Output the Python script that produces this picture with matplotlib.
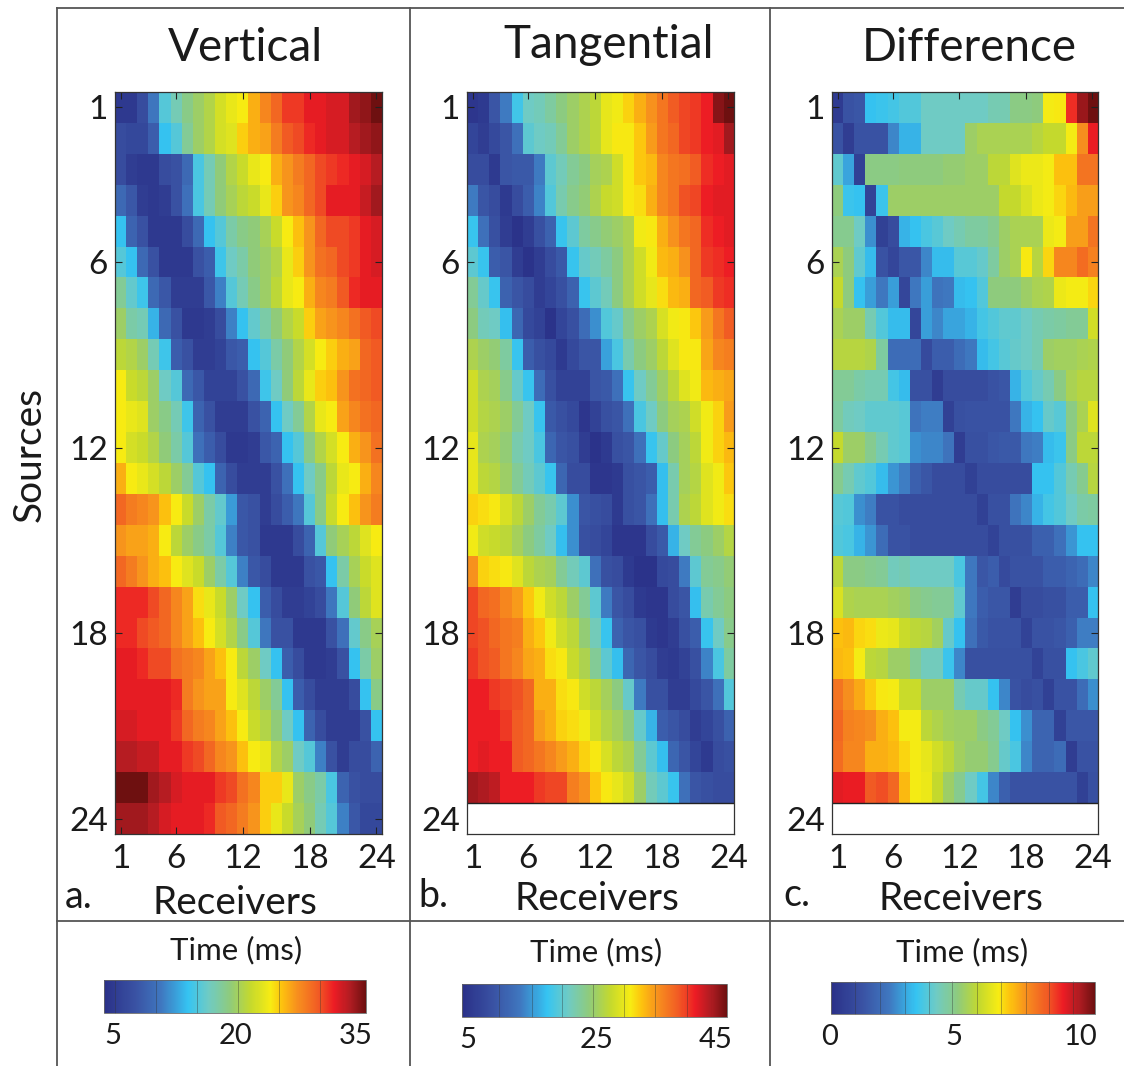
import matplotlib
matplotlib.use('Agg')
import matplotlib.pyplot as plt
import numpy as np
from matplotlib.colors import LinearSegmentedColormap, Normalize
from matplotlib.cm import ScalarMappable
from matplotlib.lines import Line2D

W, H = 1124, 1066

plt.rcParams['font.family'] = ['Lato', 'DejaVu Sans']

blank_row = [np.nan] * 24

vertical_times = [
    [6,6,8,11.5,16,17.5,19,20,21,22.5,23.5,24,26,27.5,29,30.5,30.5,31.5,31.5,32,32,33.5,34,35],
    [8,7.5,7.5,9.5,14.5,16,18.5,20,21,22.5,23,25,26,26.5,28,29.5,30,31,31.5,32,32,33,33.5,34],
    [8,6.5,6,6,8,8.5,10.5,15.5,17.5,19.5,21,22,23.5,24,26,27,28,29,30,30.5,31,31.5,32,33],
    [10.5,9,6.5,6,6.5,8.5,11,15.5,17.5,19.5,20.5,21.5,22,23.5,25,27,27.5,29,30,31.5,31.5,31.5,32.5,33.5],
    [14.5,10,8.5,6,6,6,8,10.5,14.5,16,18,19,19.5,20.5,22,24,25.5,27,29,30,30,30.5,31.5,32],
    [16,14.5,10.5,8.5,6,6,6,8.5,9.5,15,17,18,19.5,20,21,23.5,25,27,28.5,29,30,30.5,31.5,32],
    [18.5,16.5,15,10.5,9,6.5,6.5,6.5,9,12,16,17.5,19,20,21.5,23.5,24,26,27.5,28,29.5,31,31.5,31.5],
    [20,18,17.5,14,10.5,8.5,6,6,6.5,8,12,14.5,16.5,18,19.5,21,22,25,26.5,27,27.5,28.5,29.5,30],
    [21.5,21,20,17.5,15,9.5,8.5,6.5,6.5,7,9,9.5,14.5,16,18,19.5,21,22.5,24,25,26,26.5,29,29.5],
    [24,22,21.5,20,17,16,10.5,9,7,7,7,8.5,10.5,15,17,19.5,21.5,23.5,25,25.5,27,28.5,29,29.5],
    [24,23.5,23,20,19,17.5,15,10,8.5,6.5,6.5,6.5,8.5,10,14.5,17,18.5,21,23.5,24,26.5,27.5,28.5,29],
    [24,22.5,22,21,19.5,18,16,11,9.5,8,6,6,6.5,9,10,14.5,16,19,21,22.5,24,26,27,28.5],
    [26,24,23.5,22.5,21.5,20,18.5,16,14.5,10,8,6.5,6.5,6.5,8.5,11,14.5,17,19,21.5,23.5,24,26,27.5],
    [29,28,27.5,27,25.5,24,22,20,18,16.5,13,9,8.5,6.5,8,9.5,11.5,16,19,22,24,25.5,27,28],
    [27,26.5,26.5,26,24,21.5,20,19,18,16,12,9,8.5,6,6,6,8,10,16,19.5,20.5,21.5,23,24],
    [29,28,27,26,25.5,24,23,22,20,18,16,12,9,8,6,6,6,8.5,9,14.5,18,20.5,22,23],
    [31,31,31,30,29,27.5,26.5,24.5,23.5,22,20,17,14.5,9.5,8,6.5,6.5,7,8,11.5,16,19.5,21.5,23],
    [31,31,30,29.5,29,27.5,26.5,25.5,24,22.5,21,19,16,11.5,8.5,8.5,6,6,6,8.5,11,16.5,19,20.5],
    [31.5,31.5,31,30,30,28.5,28,27.5,26.5,25.5,24,21.5,20,17,14.5,9.5,8,6,6,6.5,8.5,14.5,18,20],
    [31.5,31.5,31.5,31.5,31.5,31,28,27,26.5,26.5,24,23,21.5,20,18.5,14.5,9.5,8,6.5,6.5,6.5,8,14.5,19],
    [32,32,31.5,31.5,31.5,30.5,29,28,27.5,26.5,25.5,24,22,21,19.5,17,14.5,10,8,6.5,6.5,6.5,8.5,14.5],
    [33,33,32.5,32.5,31.5,31.5,30.5,30,29,27.5,27,25.5,24,23.5,21,20,17,16,12,8.5,6.5,8,8,10],
    [35,35,35,33.5,33,32,31.5,31.5,31.5,30.5,30,28.5,27.5,25,25,23.5,20,19,18,15.5,10,8.5,8,8],
    [33.5,33.5,33.5,33,32,31.5,31.5,31.5,31,29.5,29,28,27,25,23.5,22,20.5,19.5,17.5,16,12,9,7.5,7.5],
]

tangential_times = [
    [6,6.5,10,14,18.5,21,21.5,22.5,24,25,26,27,29.5,30,31.5,33,34.5,36,37.5,38.5,39,40,44,45],
    [8,7,8.5,10,13,20,21,21.5,23,25,26,27,29.5,30.5,30.5,32,34,36,37,38.5,39,40,40.5,43],
    [9,9,6.5,10,10.5,10.5,14,20,21.5,23,24,25.5,26,28,30.5,32,32.5,35,36,36.5,37.5,39.5,40,40.5],
    [14,10,9,6.5,9,11,14.5,19.5,22,23.5,24.5,26,27.5,28,30.5,31,33,35,36,38,38.5,40,40.5,40.5],
    [18,13,9.5,7,5.5,7,9.5,11.5,18,20,22.5,23.5,24.5,25,26,30,30.5,33,34.5,36,37,39.5,40,40.5],
    [20,18,11,10,7,5.5,7,9,10.5,18,20.5,21.5,22.5,24,26,28,30,32.5,33,34.5,37,39,39.5,40],
    [23,20.5,18,11.5,10,9,7,8,9.5,11.5,18,20,21.5,24,26,28,29.5,31,32.5,33,37,37.5,39,39.5],
    [24,21.5,21,17.5,12,8.5,7.5,5.5,8,9.5,12.5,15,19.5,20.5,23.5,25,26,28.5,30,30.5,32,34,36,37.5],
    [26,25,24.5,22.5,18,11,9.5,8.5,6.5,8.5,10,10,16,19,22,24,25,27,29,30.5,30.5,33.5,35,35.5],
    [28,26,25.5,23.5,20.5,18,12.5,9.5,7.5,7.5,7.5,10,10.5,13,18,21,23,25,27,29,30,32.5,33,33.5],
    [28,26.5,26,25,23,21,18,10.5,9.5,8.5,6,7.5,9.5,10,13,19,21,24,25.5,26,28,30,31.5,34],
    [29.5,26,25.5,24.5,22,21,19,12,10,9.5,7,5.5,6.5,9.5,10,13,18,20.5,24,25.5,27,30,31.5,32.5],
    [29.5,27,26.5,25,23,21.5,20,18,12,9,9,6,6,6.5,9.5,10,11,17.5,22,25.5,26.5,29,30,32],
    [31.5,31,30.5,28.5,27,25,23,22,20,15,10,9.5,9,6.5,9.5,10,13,17.5,22,26,27,29,30,31],
    [30,28,27.5,27,25.5,24,22.5,21,17.5,15,9.5,9,8,6,6,6,9,10.5,17,21,23,24,25,26.5],
    [34.5,31.5,31,30.5,29,27,26,25.5,23,21.5,20,13,9.5,9,6.5,5.5,5.5,8.5,9,14,20,23,23.5,24.5],
    [38.5,37,36.5,35,34,32,30,28,27,25,23,20,14,10,9,6.5,6,6,9,10,17.5,22,23,24],
    [38.5,38,37,36,35.5,33,32,30,28,27,24.5,21.5,18,11.5,10,9.5,6.5,6,7,9.5,11,18,21,23.5],
    [39,38,37.5,36,35,33.5,33,31,30.5,27.5,26,23,20,17.5,12,10,9,7,6.5,7.5,9.5,14.5,19,22.5],
    [40,40,39,38.5,38,37,33,33,31,30.5,28,27,25.5,24,20.5,14,9.5,9.5,7,7,8.5,10,13,19.5],
    [40,40,40,39,37.5,37,34,33,31.5,31,30,28,26.5,25.5,24,20.5,17,11,10,9,7,8,9.5,11.5],
    [40,40.5,40,40,37.5,37,36,35,34,33,31.5,30.5,28.5,27,26,23,20,17.5,12,10,8,6.5,9,9.5],
    [43,42.5,42,40,40,40,39,38.5,38.5,35.5,34.5,32,30.5,29.5,28,25,21.5,20,18,13,10,9.5,9,9],
    blank_row,
]

difference_times = [
    [0.4,1.2,1.3,3.2,3.3,3.4,3.6,3.6,4,4,4,4,4,4,4.2,4.2,4.7,4.7,4.8,6.3,6.4,8.6,9.6,10],
    [1.2,0.5,1.2,1.2,1.2,2.4,3,3,4,4,4,4,5,5.2,5.2,5.2,5.2,5.2,5.4,5.6,5.6,6.3,7.4,8.8],
    [3.8,2.8,0.6,4.7,4.7,4.7,4.8,4.8,4.8,4.8,4.9,4.9,5,5,5.5,5.5,6,6.2,6.2,6.3,6.8,6.8,7.8,7.8],
    [4.8,3.3,3.2,0.7,3.3,5,5,5,5,5,5,5,5,5,5,5.6,5.6,5.9,6.2,6.3,6.6,6.9,7.2,7.2],
    [4.6,4.6,4,2.5,0.6,1,3,3.2,3.5,3.7,4,4.2,4.4,4.4,4.6,5,5.2,5.2,5.2,6.2,6.3,7.2,7.2,7.8],
    [5.2,4.8,3.8,3.1,1.2,0.8,1.3,1.3,2.4,3.1,3.1,3.7,3.7,3.9,4.4,5,5.2,6.4,5.4,6.6,7.5,7.5,7.9,7.6],
    [5.6,4.8,3.2,2.7,2.2,2.7,0.8,2.2,2.7,2.1,2.2,3.1,3.2,3.6,4.8,4.8,4.8,5,5.2,5.3,6.2,6.3,6.3,6.6],
    [5.2,5,5,4.2,3.6,3.1,3.1,0.8,2.7,2.4,2.8,2.8,3,3.4,3.6,3.8,3.8,4,4.2,4.3,4.4,4.5,4.5,5.8],
    [5.4,5.4,5.4,5.3,4.4,1.9,1.9,1.9,0.9,1.5,1.5,1.9,2.2,3.1,3.4,3.7,3.9,4,4.2,5,5.1,5.1,5.2,5.3],
    [4.5,4.5,4.3,4.2,4.2,3.4,3.1,1.1,1.1,0.5,1,1,1,1,1.2,1.3,3,3.6,3.9,4.2,4.7,5.2,5.4,5.4],
    [4.4,4.1,4,3.8,3.8,3.8,3.7,2.1,2.3,2.3,0.6,1.1,1.2,1.2,1.2,1.2,2.2,3,3.2,3.9,3.7,4.7,5.2,6],
    [5.6,5,5,4.6,4.2,3.8,3.7,2.5,2.4,2.4,2.1,0.5,1.1,1.1,1.3,1.4,1.4,2.2,2.3,3.1,3.3,4.7,5.5,5.5],
    [4.6,4.2,3.8,3.6,3.1,2.6,2.3,1.6,1.3,1,1,1,0.6,1,1,1,1,1,3.2,3.2,3.6,4.2,4.6,5.4],
    [3.7,3.6,2.5,2.3,1.2,1.2,1,1,1,1,1,1,1,0.6,1.1,1.1,2.1,2.4,3,3.4,3.6,4,4.3,4.4],
    [3.6,3.5,3,2.6,1.9,1.2,1.2,1,1,1,1,1,1,1,0.7,1.1,1.1,1.1,1.6,1.6,2,2.6,3.2,3.2],
    [5.5,4.7,4.7,4.6,4.5,4.1,4.2,4,4,4,4,3.5,2.2,1.3,1.5,0.9,1.2,1.2,1.2,1.5,1.5,1.7,1.9,2.4],
    [5.9,5.3,5.2,5.2,5.2,5.1,5,4.7,4.6,4.5,4.5,3.8,2.2,1.5,1.3,1.3,0.5,1,1,1.1,1.1,1.5,1.5,3.2],
    [6.8,6.9,6.6,6.5,6.2,6.1,5.7,5.5,5.4,5.1,3.9,3.2,2,1.4,1.2,1.2,1.2,0.7,1.2,1.2,1.3,1.6,2.3,2.3],
    [6.9,6.8,6.3,5.5,5.4,5,5,4.5,4.1,4.1,3.3,2.4,1.1,1.1,1.1,1.1,1.1,1.1,0.7,1.1,1.1,3.2,3.5,3.8],
    [7.8,7.4,7.1,6.7,6.4,6.3,5.7,5.7,5,5,5,4.2,3.9,3.9,3.2,2.4,1.2,1,1.1,0.6,1.2,1.2,1.9,2.5],
    [8,7.6,7.5,7.4,7,6.8,6.3,6.3,5.5,5.3,5.1,5,5,4.7,4.5,4,3.2,2.5,1.7,1.7,0.6,1.3,1.3,1.3],
    [7.9,7.5,7.5,7,7,6.9,6.6,6.3,6.1,5.8,5.5,5.1,4.9,4.9,4.6,3.9,3.5,2.4,1.7,1.7,1.9,0.5,1.2,1.2],
    [8.9,8.8,8.8,8.2,8.3,8,6.9,6.3,6.2,5.6,5,4.6,4,3.4,2.4,1.6,1.2,1.2,1.2,1.2,1.2,1.2,0.6,1.1],
    blank_row,
]

titles = ['Vertical', 'Tangential', 'Difference']
letters = ['a.', 'b.', 'c.']
tick_rows = [1, 6, 12, 18, 24]
limits = [(5, 35), (5, 45), (0, 10)]
cbar_labels = [['5', '20', '35'], ['5', '25', '45'], ['0', '5', '10']]
cbar_ticks = [
    [6.3, 11, 15.6, 20.3, 25, 29.7],
    [10.6, 15.5, 20.1, 24.7, 29.4, 34.1, 38.9],
    [0.92, 1.87, 2.8, 3.7, 4.59, 5.52, 6.43, 7.38, 8.26, 9.18],
]

jet_like = LinearSegmentedColormap.from_list('jet_like', [
    (0.0, '#2a3088'), (0.12, '#3a53a4'), (0.22, '#3f78c0'), (0.32, '#35c4f2'),
    (0.40, '#6fcbc4'), (0.48, '#8fcb7c'), (0.56, '#c4d92e'), (0.635, '#f7ec13'),
    (0.68, '#fdc20e'), (0.74, '#f78f1e'), (0.82, '#f15a24'), (0.88, '#ed1c24'),
    (0.94, '#b01c22'), (1.0, '#6e1010'),
])
jet_like.set_bad('white')

# pixel boxes: left, right, top, bottom
panel_boxes = [(115, 382, 92, 834), (467, 734, 92, 834), (832, 1098, 92, 834)]
cbar_boxes = [(104, 366, 980, 1013), (462, 727, 984, 1017), (831, 1095, 982, 1014)]
title_pos = [(245, 48), (609, 45), (969, 48)]
xlabel_pos = [(235, 903), (597, 899), (961, 899)]
letter_pos = [(79, 897), (433, 896), (797, 895)]
time_pos = [(236, 950), (596, 952), (962, 952)]
cbar_label_x = [(113, 236, 356), (468, 597, 716), (830, 954, 1080)]
cbar_label_y = [1036, 1040, 1037]


def box_axes(fig, box):
    l, r, t, b = box
    return fig.add_axes([l / W, 1 - b / H, (r - l) / W, (b - t) / H])


def put(fig, x, y, s, **kw):
    fig.text(x / W, 1 - y / H, s, ha=kw.pop('ha', 'center'), va=kw.pop('va', 'center'), color='#1a1a1a', **kw)


def main():
    fig = plt.figure(figsize=(W / 100, H / 100), dpi=100)

    frame = [((57, 57), (8, 1066)), ((57, 1124), (8, 8)), ((410, 410), (8, 1066)),
             ((770, 770), (8, 1066)), ((57, 1124), (921, 921))]
    for xs, ys in frame:
        fig.add_artist(Line2D([x / W for x in xs], [1 - y / H for y in ys], color='#555555', lw=1.3))

    tables = [vertical_times, tangential_times, difference_times]
    for i, table in enumerate(tables):
        ax = box_axes(fig, panel_boxes[i])
        vmin, vmax = limits[i]
        norm = Normalize(vmin, vmax)
        ax.imshow(np.array(table, dtype=float), cmap=jet_like, norm=norm, aspect='auto',
                  interpolation='nearest', extent=(0.5, 24.5, 24.5, 0.5))
        ax.set_xticks(tick_rows)
        ax.set_yticks(tick_rows)
        ax.set_xticklabels([str(t) for t in tick_rows], fontsize=24, color='#1a1a1a')
        ax.set_yticklabels([str(t) for t in tick_rows], fontsize=24, color='#1a1a1a')
        ax.tick_params(direction='in', length=5, width=0.8, top=True, right=True, pad=7, color='#222222')
        ax.tick_params(axis='y', pad=5)
        for s in ax.spines.values():
            s.set_linewidth(0.9)
            s.set_color('#333333')

        # the last source is missing in b and c, no tick marks inside the white strip
        if i > 0:
            ax.axhline(23.5, color='#222222', lw=1)
            ax.tick_params(axis='x', bottom=False)
            last = ax.yaxis.get_major_ticks()[-1]
            last.tick1line.set_visible(False)
            last.tick2line.set_visible(False)

        put(fig, *title_pos[i], titles[i], fontsize=33)
        put(fig, *xlabel_pos[i], 'Receivers', fontsize=28)
        put(fig, *letter_pos[i], letters[i], fontsize=27)
        put(fig, *time_pos[i], 'Time (ms)', fontsize=22.5)

        cax = box_axes(fig, cbar_boxes[i])
        cb = fig.colorbar(ScalarMappable(norm=norm, cmap=jet_like), cax=cax, orientation='horizontal')
        cb.set_ticks(cbar_ticks[i])
        cb.set_ticklabels([])
        cb.minorticks_off()
        cax.tick_params(direction='in', length=24, width=0.5, color='#33333388', bottom=True, top=False)
        cb.outline.set_linewidth(0.6)
        cb.outline.set_edgecolor('#666666')
        for x, s in zip(cbar_label_x[i], cbar_labels[i]):
            put(fig, x, cbar_label_y[i], s, fontsize=21)

    put(fig, 30, 455, 'Sources', fontsize=28, rotation=90)

    fig.savefig('out.png', dpi=100)


main()
